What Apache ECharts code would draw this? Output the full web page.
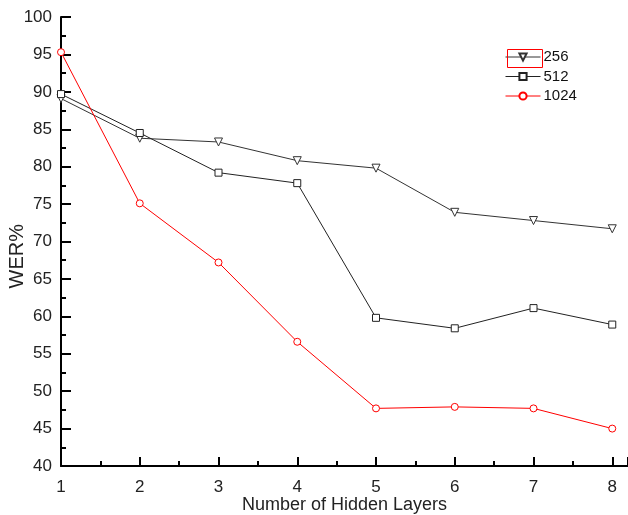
<!DOCTYPE html>
<html>
<head>
<meta charset="utf-8">
<script src="https://cdn.jsdelivr.net/npm/echarts@6/dist/echarts.min.js"></script>
<style>html,body{margin:0;padding:0;background:#fff}#c{width:628px;height:515px}</style>
</head>
<body>
<div id="c"></div>
<script>
const layers = [1, 2, 3, 4, 5, 6, 7, 8];
const wer256 = [89.1, 83.8, 83.3, 80.8, 79.8, 73.9, 72.8, 71.7];
const wer512 = [89.7, 84.5, 79.2, 77.8, 59.8, 58.4, 61.1, 58.9];
const wer1024 = [95.3, 75.1, 67.2, 56.6, 47.7, 47.9, 47.7, 45.0];
const seriesNames = ['256', '512', '1024'];

const toPairs = arr => layers.map((x, i) => [x, arr[i]]);
const font = 'Liberation Sans, Arial, sans-serif';
const chart = echarts.init(document.getElementById('c'), null, {renderer: 'canvas'});
chart.setOption({
  animation: false,
  backgroundColor: '#fff',
  grid: {left: 61, right: 0, top: 17, bottom: 49, containLabel: false, outerBoundsMode: 'none'},
  legend: {
    orient: 'vertical', left: 500, top: 44.5, padding: 5, itemWidth: 35, itemHeight: 9, itemGap: 4.5,
    lineStyle: {width: 1},
    textStyle: {fontFamily: font, fontSize: 15, color: '#111', padding: [0, 0, 0, -2]},
    data: seriesNames
  },
  xAxis: {
    type: 'value', min: 1, max: 8.2, interval: 1,
    name: 'Number of Hidden Layers', nameLocation: 'middle', nameGap: 30, nameMoveOverlap: false,
    nameTextStyle: {fontFamily: font, fontSize: 18, color: '#222'},
    axisLine: {onZero: false, lineStyle: {color: '#000', width: 2}},
    axisTick: {inside: true, length: 9, lineStyle: {color: '#000', width: 2}},
    minorTick: {show: true, splitNumber: 2, length: 5, lineStyle: {color: '#000', width: 2}},
    splitLine: {show: false},
    axisLabel: {fontFamily: font, fontSize: 17, color: '#222', margin: 13, showMaxLabel: false,
      formatter: v => Number.isInteger(v) ? String(v) : ''}
  },
  yAxis: {
    type: 'value', min: 40, max: 100, interval: 5,
    axisLine: {show: true, onZero: false, lineStyle: {color: '#000', width: 2}},
    axisTick: {show: true, inside: true, length: 10, lineStyle: {color: '#000', width: 2}},
    minorTick: {show: true, splitNumber: 2, length: 5, lineStyle: {color: '#000', width: 2}},
    splitLine: {show: false},
    axisLabel: {fontFamily: font, fontSize: 17, color: '#222', margin: 9}
  },
  graphic: [
    {type: 'text', left: 7, top: 224, rotation: Math.PI / 2,
     style: {text: 'WER%', fontFamily: font, fontSize: 20, fill: '#222'}},
    {type: 'rect', left: 505, top: 47, shape: {width: 35, height: 18},
     style: {fill: 'none', stroke: '#ff0000', lineWidth: 1}, z: 10}
  ],
  series: [
    {name: '256', type: 'line', data: toPairs(wer256), symbol: 'triangle', symbolRotate: 180, symbolSize: 8,
     lineStyle: {color: '#333', width: 1}, itemStyle: {color: '#fff', borderColor: '#333', borderWidth: 1}},
    {name: '512', type: 'line', data: toPairs(wer512), symbol: 'rect', symbolSize: 7,
     lineStyle: {color: '#222', width: 1}, itemStyle: {color: '#fff', borderColor: '#222', borderWidth: 1}},
    {name: '1024', type: 'line', data: toPairs(wer1024), symbol: 'circle', symbolSize: 7,
     lineStyle: {color: '#ff0000', width: 1}, itemStyle: {color: '#fff', borderColor: '#ff0000', borderWidth: 1}}
  ]
});
</script>
</body>
</html>
